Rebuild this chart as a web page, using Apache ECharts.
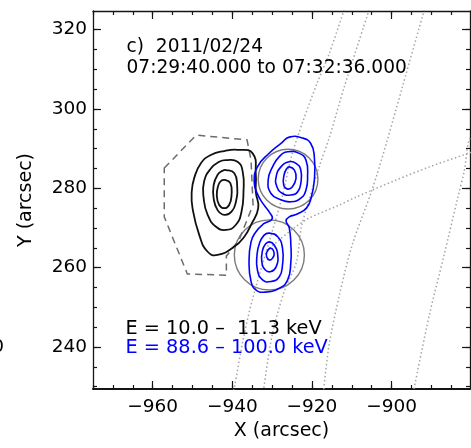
<!DOCTYPE html>
<html>
<head>
<meta charset="utf-8">
<script src="https://cdn.jsdelivr.net/npm/echarts@6/dist/echarts.min.js"></script>
<style>
  html, body { margin: 0; padding: 0; background: #fff; }
  #chart { width: 471px; height: 448px; }
</style>
</head>
<body>
<div id="chart"></div>
<script>
// ---- Axis ranges and ticks (arcsec) ----
const xRange = [-975, -880.3];
const yRange = [229.4, 324.7];
const xMajorTicks = [-960, -940, -920, -900];
const xMinorTicks = [-975, -970, -965, -960, -955, -950, -945, -940, -935, -930,
                     -925, -920, -915, -910, -905, -900, -895, -890, -885];
const yMajorTicks = [240, 260, 280, 300, 320];
const yMinorTicks = [230, 235, 240, 245, 250, 255, 260, 265, 270, 275, 280, 285,
                     290, 295, 300, 305, 310, 315, 320];

// ---- Annotation text ----
const titleLines = ['c)  2011/02/24', '07:29:40.000 to 07:32:36.000'];
const bandLabels = ['E = 10.0 \u2013  11.3 keV', 'E = 88.6 \u2013 100.0 keV'];

// ---- Heliographic grid (dotted): solar limb, meridians, one parallel ----
const limbTrace = [[-911.6, 326.0], [-915.6, 314.1], [-918.7, 306.5], [-922.4, 296.5],
  [-925.2, 287.9], [-927.5, 277.8], [-931.0, 265.7], [-935.0, 251.8], [-937.3, 241.8],
  [-939.5, 229.7], [-939.8, 228.8]];
const meridianA = [[-905.3, 326.0], [-911.9, 305.5], [-915.6, 292.9], [-918.2, 285.4],
  [-920.7, 277.1], [-922.7, 270.0], [-923.9, 261.4], [-927.0, 253.9], [-930.0, 243.0],
  [-932.2, 228.8]];
const meridianB = [[-891.5, 326.0], [-897.3, 305.5], [-901.3, 291.4], [-904.9, 279.6],
  [-909.9, 265.7], [-913.1, 253.1], [-915.7, 240.5], [-917.1, 228.8]];
const meridianC = [[-877.9, 296.0], [-880.5, 292.2], [-881.7, 284.6], [-883.5, 277.1],
  [-886.8, 263.2], [-890.5, 248.1], [-894.5, 228.8]];
const parallelA = [[-879.0, 289.4], [-890.5, 285.4], [-898.8, 282.1], [-908.9, 277.8],
  [-913.1, 275.8], [-920.7, 272.5], [-924.5, 270.0], [-928.2, 267.0], [-931.2, 264.4]];

// ---- Source circles: [x, y, radius] ----
const sourceCircles = [[-926.0, 282.3, 7.5], [-930.7, 263.2, 8.8]];

// ---- Dashed outline ----
const dashedOutline = [[-957.1, 285.1], [-949.1, 293.4], [-936.3, 292.2], [-935.3, 287.1],
  [-934.8, 275.8], [-938.3, 267.0], [-941.5, 262.9], [-941.5, 258.1], [-951.3, 258.4],
  [-957.1, 272.8]];

// ---- 10.0-11.3 keV contours (outer to inner) ----
const lowEnergyContours = [
  [[-942.0, 289.4], [-938.7, 289.7], [-934.9, 288.8], [-934.1, 283.4], [-934.1, 279.1],
   [-933.5, 275.0], [-935.3, 270.8], [-937.0, 267.8], [-939.5, 265.3], [-943.7, 263.2],
   [-946.2, 264.0], [-948.3, 268.2], [-950.0, 275.0], [-950.2, 279.1], [-949.6, 282.5],
   [-947.9, 286.3], [-945.4, 288.4]],
  [[-941.6, 287.1], [-938.7, 286.7], [-937.4, 284.2], [-937.2, 279.1], [-937.7, 274.1],
   [-939.1, 270.8], [-941.6, 269.5], [-944.1, 270.3], [-946.2, 273.3], [-947.2, 277.5],
   [-947.1, 281.7], [-945.4, 285.0], [-943.3, 286.7]],
  [[-941.6, 284.6], [-939.5, 283.8], [-938.8, 280.8], [-939.1, 276.6], [-940.2, 274.1],
   [-942.0, 273.3], [-943.7, 274.5], [-944.7, 277.5], [-944.7, 280.8], [-943.7, 283.4],
   [-942.5, 284.4]],
  [[-942.0, 282.1], [-940.5, 281.3], [-940.2, 278.3], [-940.8, 275.8], [-942.0, 275.0],
   [-943.3, 275.8], [-943.9, 278.3], [-943.5, 280.8], [-942.9, 281.8]]
];

// ---- 88.6-100.0 keV contours: joint outer level, then each footpoint ----
const highEnergyContours = [
  [[-925.7, 292.9], [-922.4, 292.7], [-920.3, 291.3], [-919.4, 287.9], [-919.4, 282.1],
   [-920.2, 277.6], [-921.4, 275.0], [-923.7, 273.5], [-925.7, 272.8], [-926.5, 271.8],
   [-925.7, 270.0], [-925.3, 265.7], [-925.3, 261.4], [-926.1, 256.9], [-928.2, 254.8],
   [-932.0, 253.8], [-934.1, 254.4], [-935.3, 256.5], [-935.8, 261.4], [-935.3, 266.5],
   [-934.1, 269.0], [-932.2, 271.0], [-930.0, 272.3], [-930.7, 274.0], [-932.2, 276.0],
   [-933.7, 278.6], [-934.5, 281.6], [-933.7, 285.4], [-930.7, 288.9], [-927.7, 291.4]],
  [[-926.1, 289.2], [-923.2, 288.8], [-921.5, 287.1], [-921.1, 282.9], [-921.5, 279.6],
   [-922.8, 277.5], [-925.3, 276.6], [-927.8, 277.1], [-930.3, 278.7], [-931.0, 282.1],
   [-929.9, 285.4], [-928.2, 288.0]],
  [[-925.7, 286.7], [-924.0, 286.3], [-922.8, 284.6], [-922.8, 281.3], [-923.6, 279.1],
   [-925.3, 278.3], [-927.4, 278.7], [-928.8, 280.4], [-929.0, 282.9], [-927.8, 285.4]],
  [[-925.7, 285.4], [-924.4, 284.6], [-924.0, 282.5], [-924.9, 280.4], [-926.1, 279.8],
   [-927.1, 280.8], [-927.0, 283.4], [-926.3, 285.0]],
  [[-930.7, 268.7], [-928.6, 267.8], [-927.4, 264.9], [-927.4, 260.7], [-928.2, 257.7],
   [-930.3, 256.5], [-932.4, 256.9], [-933.7, 259.4], [-933.8, 263.2], [-933.2, 266.1],
   [-932.0, 268.2]],
  [[-930.7, 266.5], [-929.5, 265.7], [-928.6, 263.2], [-929.0, 260.2], [-930.3, 259.0],
   [-931.7, 259.4], [-932.6, 261.5], [-932.4, 264.4], [-931.7, 265.9]],
  [[-930.3, 264.9], [-929.5, 263.6], [-929.9, 262.4], [-930.7, 261.9], [-931.4, 262.8],
   [-931.3, 264.0]]
];

// ---- Rendering ----
const FONT = '"DejaVu Sans", sans-serif';
const INK = '#151515';
const chart = echarts.init(document.getElementById('chart'), null, { renderer: 'canvas' });

const minusLabel = v => (v < 0 ? '\u2212' + Math.abs(v) : String(v));

function axis(range, extra) {
  return Object.assign({
    type: 'value', min: range[0], max: range[1],
    splitLine: { show: false },
    axisLine: { show: false, onZero: false },
    axisTick: { show: false },
    axisLabel: { show: false }
  }, extra);
}
function ticks(values, len) {
  return { show: true, inside: true, length: len, customValues: values,
           lineStyle: { color: INK, width: 1.2 } };
}

function dottedLine(points) {
  return {
    type: 'line', data: points, showSymbol: false, symbol: 'none', smooth: 0.3,
    silent: true, clip: true, z: 1,
    lineStyle: { color: '#a5a5a5', width: 1.5, type: [1.5, 2.5] }
  };
}

function loopSeries(loops, style, smooth, z) {
  return {
    type: 'custom', coordinateSystem: 'cartesian2d', silent: true, z: z,
    encode: { x: 0, y: 1 },
    data: loops.map(l => l[0]),
    renderItem: function (params, api) {
      const pts = loops[params.dataIndex].map(p => api.coord(p));
      return {
        type: 'polygon',
        shape: { points: pts, smooth: smooth },
        style: Object.assign({ fill: 'none' }, style)
      };
    }
  };
}

const circleSeries = {
  type: 'custom', coordinateSystem: 'cartesian2d', silent: true, z: 2,
  encode: { x: 0, y: 1 },
  data: sourceCircles,
  renderItem: function (params, api) {
    const c = api.coord([api.value(0), api.value(1)]);
    const r = api.size([api.value(2), 0])[0];
    return {
      type: 'circle',
      shape: { cx: c[0], cy: c[1], r: r },
      style: { fill: 'none', stroke: '#7b7b7b', lineWidth: 1.4 }
    };
  }
};

const option = {
  animation: false,
  backgroundColor: '#fff',
  grid: { left: 93, top: 11, width: 377, height: 378, show: false },
  xAxis: [
    axis(xRange, {
      position: 'bottom',
      axisLine: { show: true, onZero: false, lineStyle: { color: INK, width: 2 } },
      axisTick: ticks(xMajorTicks, 8),
      axisLabel: { show: true, customValues: xMajorTicks, formatter: minusLabel, margin: 9,
                   fontFamily: FONT, fontSize: 18.5, color: '#000' },
      name: 'X (arcsec)', nameLocation: 'middle', nameGap: 33,
      nameTextStyle: { fontFamily: FONT, fontSize: 19, color: '#000' }
    }),
    axis(xRange, { position: 'bottom', axisTick: ticks(xMinorTicks, 4) }),
    axis(xRange, {
      position: 'top',
      axisLine: { show: true, onZero: false, lineStyle: { color: INK, width: 1.3 } },
      axisTick: ticks(xMajorTicks, 8)
    }),
    axis(xRange, { position: 'top', axisTick: ticks(xMinorTicks, 4) })
  ],
  yAxis: [
    axis(yRange, {
      position: 'left',
      axisLine: { show: true, onZero: false, lineStyle: { color: INK, width: 1.3 } },
      axisTick: ticks(yMajorTicks, 8),
      axisLabel: { show: true, customValues: yMajorTicks, margin: 6,
                   fontFamily: FONT, fontSize: 18.5, color: '#000' },
      name: 'Y (arcsec)', nameLocation: 'middle', nameGap: 57, nameRotate: 90,
      nameTextStyle: { fontFamily: FONT, fontSize: 19, color: '#000' }
    }),
    axis(yRange, { position: 'left', axisTick: ticks(yMinorTicks, 4) }),
    axis(yRange, {
      position: 'right',
      axisLine: { show: true, onZero: false, lineStyle: { color: INK, width: 1.3 } },
      axisTick: ticks(yMajorTicks, 8)
    }),
    axis(yRange, { position: 'right', axisTick: ticks(yMinorTicks, 4) })
  ],
  series: [
    dottedLine(limbTrace),
    dottedLine(meridianA),
    dottedLine(meridianB),
    dottedLine(meridianC),
    dottedLine(parallelA),
    circleSeries,
    loopSeries([dashedOutline], { stroke: '#6c6c6c', lineWidth: 1.5, lineDash: [7, 5] }, 0, 3),
    loopSeries(lowEnergyContours, { stroke: '#111', lineWidth: 1.8 }, 0.5, 4),
    loopSeries(highEnergyContours, { stroke: '#0000ff', lineWidth: 1.6 }, 0.5, 5)
  ],
  graphic: [
    { type: 'text', x: 126.5, y: 46.8, z: 10,
      style: { text: titleLines[0], font: '18.6px ' + FONT, fill: '#000',
               textAlign: 'left', textVerticalAlign: 'middle' } },
    { type: 'text', x: 126.5, y: 68.4, z: 10,
      style: { text: titleLines[1], font: '18.6px ' + FONT, fill: '#000',
               textAlign: 'left', textVerticalAlign: 'middle' } },
    { type: 'text', x: 125.5, y: 328.8, z: 10,
      style: { text: bandLabels[0], font: '19.3px ' + FONT, fill: '#000',
               textAlign: 'left', textVerticalAlign: 'middle' } },
    { type: 'text', x: 125.5, y: 348.4, z: 10,
      style: { text: bandLabels[1], font: '19.3px ' + FONT, fill: '#0000ff',
               textAlign: 'left', textVerticalAlign: 'middle' } },
    { type: 'text', x: 4, y: 346.7, z: 10,
      style: { text: '0', font: '18.5px ' + FONT, fill: '#000',
               textAlign: 'right', textVerticalAlign: 'middle' } }
  ]
};

chart.setOption(option);
</script>
</body>
</html>
